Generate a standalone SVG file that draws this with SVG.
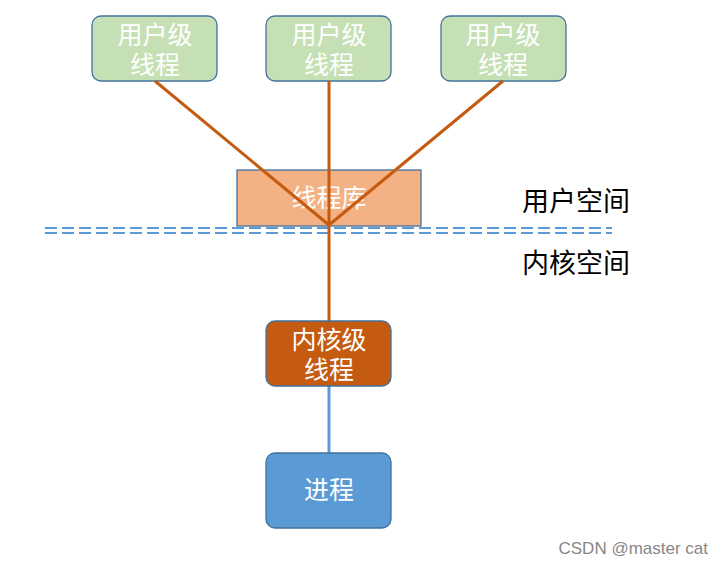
<svg xmlns="http://www.w3.org/2000/svg" width="724" height="564" viewBox="0 0 724 564">
<style>
.t{font-family:"Noto Sans CJK SC","Liberation Sans",sans-serif;font-size:25px;fill:#fff;text-anchor:middle}
.u{fill:#c5e0b4;stroke:#41719c;stroke-width:1.3}
.l{font-family:"Noto Sans CJK SC",sans-serif;font-size:27px;fill:#000}
</style>
<rect width="724" height="564" fill="#fff"/>
<g id="u1"><rect class="u" x="92" y="16" width="125" height="65" rx="9"/><text class="t" x="155" y="44">用户级</text><text class="t" x="155" y="74">线程</text></g>
<g id="u2"><rect class="u" x="266" y="16" width="125" height="65" rx="9"/><text class="t" x="329" y="44">用户级</text><text class="t" x="329" y="74">线程</text></g>
<g id="u3"><rect class="u" x="441" y="16" width="125" height="65" rx="9"/><text class="t" x="503" y="44">用户级</text><text class="t" x="503" y="74">线程</text></g>
<g id="lib"><rect x="237" y="170" width="184" height="56" fill="#f4b183" stroke="#41719c" stroke-width="1.3"/><text class="t" x="329" y="207">线程库</text></g>
<g id="sep"><line x1="45" y1="228" x2="612" y2="228" stroke="#5b9bd5" stroke-width="2" stroke-dasharray="12,5"/><line x1="45" y1="233" x2="612" y2="233" stroke="#5b9bd5" stroke-width="2" stroke-dasharray="12,5"/></g>
<g id="connectors" fill="none" stroke-width="3">
<path d="M155 81L329 225M329 81V321M503 81L329 225" stroke="#c55a11"/>
<line x1="329" y1="386" x2="329" y2="453" stroke="#5b9bd5"/>
</g>
<g id="kernel"><rect x="266" y="321" width="125" height="65" rx="9" fill="#c55a11" stroke="#41719c" stroke-width="1.3"/><text class="t" x="329" y="349">内核级</text><text class="t" x="329" y="379">线程</text></g>
<g id="proc"><rect x="266" y="453" width="125" height="75" rx="9" fill="#5b9bd5" stroke="#41719c" stroke-width="1.3"/><text class="t" x="329" y="499">进程</text></g>
<text class="l" x="522" y="211">用户空间</text>
<text class="l" x="522" y="273">内核空间</text>
<text x="708" y="554" font-family="Liberation Sans,sans-serif" font-size="17" fill="#888" text-anchor="end">CSDN @master cat</text>
</svg>
